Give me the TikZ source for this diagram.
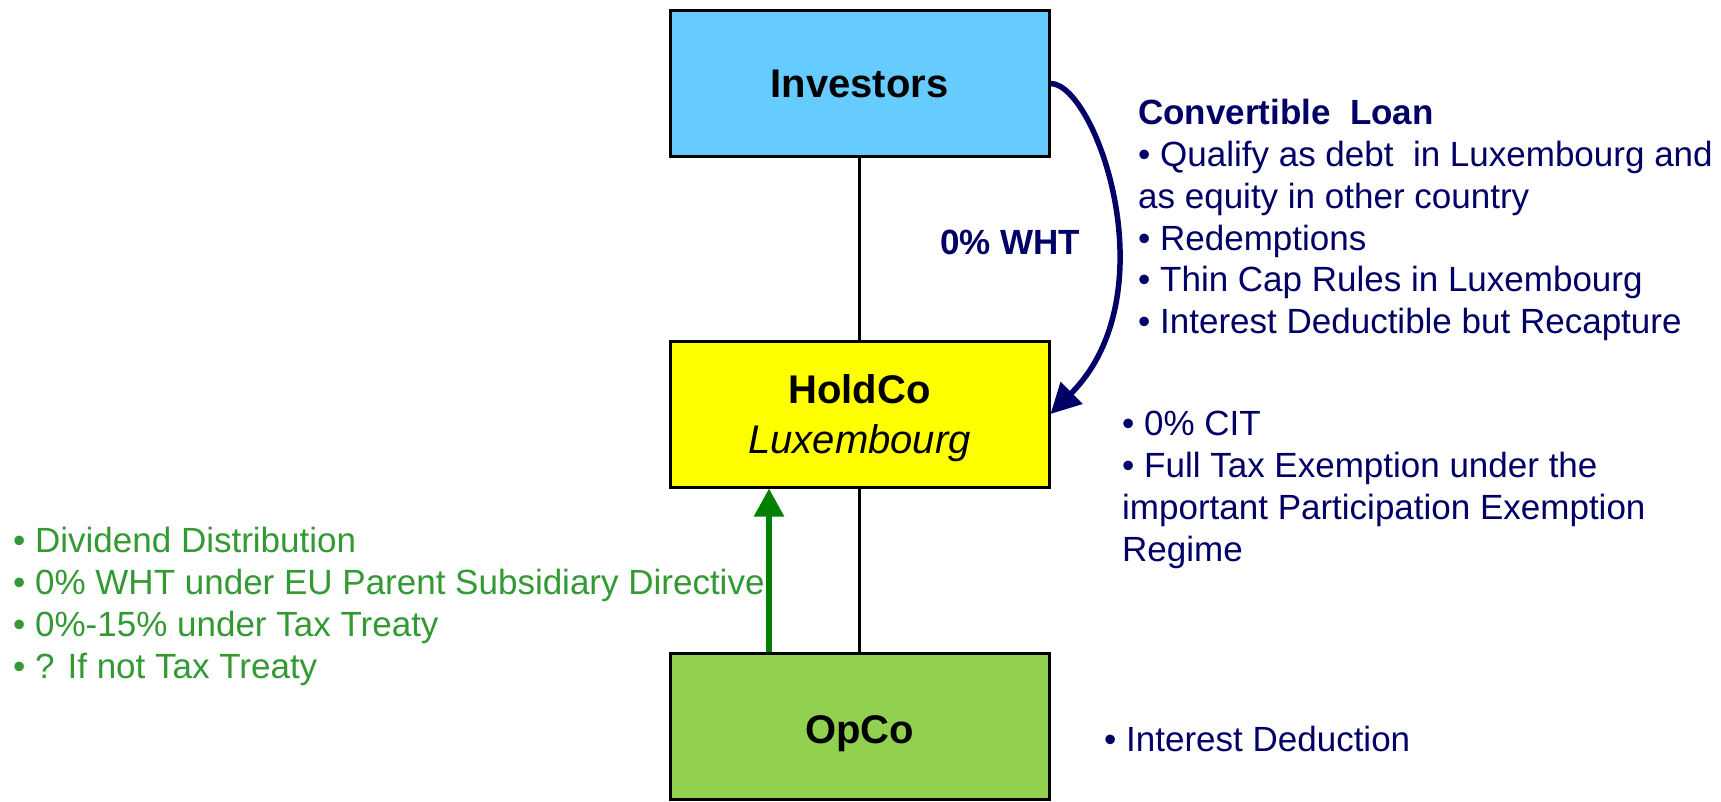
\documentclass[tikz,border=0pt]{standalone}
\usepackage{fontspec}
\setmainfont{Liberation Sans}
\usetikzlibrary{arrows.meta}
\definecolor{navy}{HTML}{000066}
\definecolor{leafgreen}{HTML}{339933}
\definecolor{arrowgreen}{HTML}{008000}
\definecolor{skyfill}{HTML}{66CCFF}
\definecolor{yellowfill}{HTML}{FFFF00}
\definecolor{limefill}{HTML}{92D050}
\begin{document}
\begin{tikzpicture}[x=1pt,y=-1pt,
  entity/.style={draw=black, line width=3pt, minimum width=379pt,
    minimum height=146pt, inner sep=0pt,
    font=\fontsize{40}{50}\selectfont\bfseries, align=center},
  link/.style={draw=black, line width=2.2pt},
  note/.style={anchor=base west, inner sep=0pt, align=left,
    font=\fontsize{35}{42}\selectfont},
  loanarrow/.style={draw=navy, line width=5.5pt,
    -{Triangle[length=30pt,width=30pt]}},
  divarrow/.style={draw=arrowgreen, line width=5.5pt,
    -{Triangle[length=28pt,width=29pt]}}
]
\useasboundingbox (0,0) rectangle (1721,802);

% ownership chain
\node[entity, fill=skyfill]    (inv)  at (859.5,83.5) {Investors};
\node[entity, fill=yellowfill, text height=78pt, text depth=0pt]
  (hold) at (859.5,414) {HoldCo\\{\mdseries\itshape Luxembourg}};
\node[entity, fill=limefill, text height=33pt, text depth=0pt]
  (opco) at (859.5,726.5) {OpCo};

\draw[link] (inv.south) -- (hold.north);
\draw[link] (hold.south) -- (opco.north);

% convertible loan from investors to the holding
\draw[loanarrow] (inv.east) .. controls +(45,0) and +(120,-120) .. (hold.east);
\node[anchor=base, inner sep=0pt, text=navy,
  font=\fontsize{35}{42}\selectfont\bfseries] (wht) at (1010,255) {0\% WHT};

% dividend flow from the operating company
\draw[divarrow] ([xshift=-90.5pt]opco.north) -- ([xshift=-90.5pt]hold.south);

% commentary (anchored at the baseline of the last line)
\node[note, text=navy] (loan) at (1138,334)
  {\textbf{Convertible\ \ Loan}\\
   • Qualify as debt\ \ in Luxembourg and\\
   as equity in other country\\
   • Redemptions\\
   • Thin Cap Rules in Luxembourg\\
   • Interest Deductible but Recapture};

\node[note, text=navy] (cit) at (1122,561)
  {• 0\% CIT\\
   • Full Tax Exemption under the\\
   important Participation Exemption\\
   Regime};

\node[note, text=navy] (ded) at (1104,751) {• Interest Deduction};

\node[note, text=leafgreen] (div) at (13,678)
  {• Dividend Distribution\\
   • 0\% WHT under EU Parent Subsidiary Directive\\
   • 0\%-15\% under Tax Treaty\\
   • ? If not Tax Treaty};
\end{tikzpicture}
\end{document}
